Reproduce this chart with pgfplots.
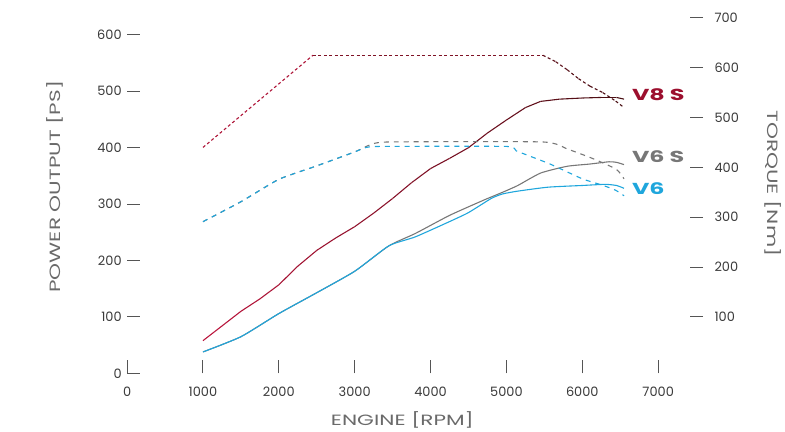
\documentclass[border=0pt]{standalone}
\usepackage{pgfplots}
\pgfplotsset{compat=1.18}
\usepackage{fontspec}
\setmainfont{Poppins}
\definecolor{tickc}{HTML}{555555}
\definecolor{numc}{HTML}{3A3A3A}
\definecolor{labc}{HTML}{6A6A6A}
\definecolor{v8c}{HTML}{9C0F2E}
\definecolor{v6sc}{HTML}{777777}
\definecolor{v6c}{HTML}{1FA6DC}
\pgfplotsset{colormap={vred}{rgb255=(190,22,62) rgb255=(72,14,18)}}
\newcommand{\wide}[1]{\scalebox{1.45}[1]{#1}}
\newcommand{\widel}[1]{\scalebox{1.5}[1]{#1}}
\begin{document}
\begin{tikzpicture}
\pgfplotsset{
  common/.style={
    scale only axis, width=580pt, height=358pt,
    xmin=0, xmax=7592,
    axis line style={draw=none},
    tick align=inside, major tick length=13pt,
    tick style={line width=1pt, color=tickc},
    /pgf/number format/assume math mode=true,
    /pgf/number format/1000 sep={},
    tick label style={font=\fontsize{13}{15}\selectfont, color=numc},
    label style={font=\fontsize{15}{17}\selectfont, color=labc},
    point meta min=1000, point meta max=6550,
    clip=false,
  }
}
% power output (left axis)
\begin{axis}[common,
  ymin=0, ymax=630,
  xtick={0,1000,...,7000}, ytick={0,100,...,600},
  xtick pos=lower, ytick pos=left,
  xticklabel style={yshift=-10pt},
  yticklabel style={xshift=-2pt},
  xlabel={\wide{ENGINE [RPM]}},
  ylabel={\wide{POWER OUTPUT [PS]}},
  xlabel style={at={(axis description cs:0.478,-0.132)}, anchor=center},
  ylabel style={at={(axis description cs:-0.126,0.525)}, anchor=center, rotate=0},
]
% V6 S power
\addplot[v6sc, line width=1.1pt, smooth, tension=0.35] coordinates {
 (1000,38) (1500,65) (2000,106) (2500,143) (3000,181) (3450,226)
 (3800,248) (4250,280) (4700,307) (4950,321) (5150,333) (5450,355)
 (5800,367) (6100,371) (6350,375) (6450,374) (6550,370)};
% V6 power
\addplot[v6c, line width=1.1pt, smooth, tension=0.35] coordinates {
 (1000,38) (1500,65) (2000,106) (2500,143) (3000,181) (3450,226)
 (3800,242) (4250,269) (4500,285) (4800,310) (4950,318) (5150,323)
 (5550,330) (6000,333) (6300,335) (6450,333) (6550,328)};
% V8 S power
\addplot[mesh, colormap name=vred, point meta=x, line width=1.1pt] coordinates {
 (1000,58) (1250,84) (1500,110) (1750,132) (2000,157) (2250,190)
 (2500,218) (2750,240) (3000,260) (3250,284) (3500,310) (3750,338)
 (4000,363) (4250,381) (4500,400) (4750,426) (5000,449) (5250,471)
 (5450,482) (5700,486) (6000,488) (6250,489) (6450,489) (6550,486)};
\node[anchor=west, text=v8c, font=\fontsize{16}{18}\selectfont\bfseries] at (axis cs:6610,493) {\widel{V8 S}};
\node[anchor=west, text=v6sc, font=\fontsize{16}{18}\selectfont\bfseries] at (axis cs:6610,384) {\widel{V6 S}};
\node[anchor=west, text=v6c, font=\fontsize{16}{18}\selectfont\bfseries] at (axis cs:6610,327) {\widel{V6}};
\end{axis}
% torque (right axis)
\begin{axis}[common,
  ymin=-13.5, ymax=700,
  hide x axis,
  ytick={100,200,...,700}, ytick pos=right,
  yticklabel shift=8pt,
  ylabel={\wide{TORQUE [Nm]}},
  ylabel style={at={(axis description cs:1.122,0.534)}, anchor=center, rotate=180},
]
% V6 S torque
\addplot[v6sc, line width=1.1pt, dash pattern=on 5pt off 5pt, smooth, tension=0.3] coordinates {
 (1000,291) (1500,331) (2000,376) (2500,403) (3000,431) (3200,445)
 (3450,451) (5480,451) (5800,437) (6100,420) (6270,409) (6440,397)
 (6500,388) (6550,377)};
% V6 torque
\addplot[v6c, line width=1.1pt, dash pattern=on 5pt off 5pt, smooth, tension=0.3] coordinates {
 (1000,291) (1500,331) (2000,376) (2500,403) (3000,431) (3150,440)
 (3350,442) (5000,442) (5130,433) (5570,407) (6000,377) (6270,364)
 (6440,354) (6550,343)};
% V8 S torque
\addplot[mesh, colormap name=vred, point meta=x, line width=1.1pt, dash pattern=on 3pt off 2.5pt] coordinates {
 (1000,440) (2450,625) (5480,625) (5650,612) (5800,596) (5950,578)
 (6100,563) (6270,550) (6440,533) (6550,520)};
\end{axis}
\path[use as bounding box] (-128pt,-57pt) rectangle (657pt,376pt);
\end{tikzpicture}
\end{document}
